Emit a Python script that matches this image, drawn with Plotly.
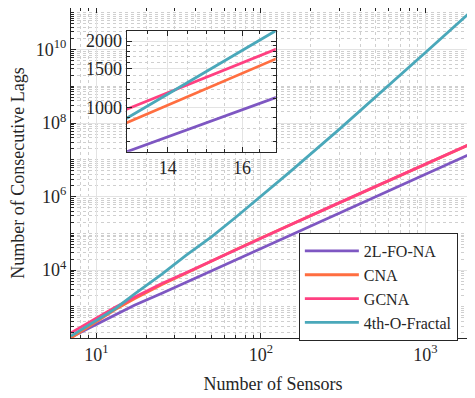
import numpy as np
import plotly.graph_objects as go

# ---- data ----
sensors = [7, 10, 13, 17, 25, 35, 50, 70, 100, 150, 300, 500, 1000, 2000]
lags_2l_fo_na = [150, 340, 628, 1106, 2360, 4650, 9500, 1.88e4, 3.94e4, 8.9e4, 3.6e5, 1.0e6, 4.02e6, 1.63e7]
lags_cna = [143, 400, 851, 1658, 4050, 8200, 1.77e4, 3.57e4, 7.44e4, 1.68e5, 6.82e5, 1.91e6, 7.72e6, 3.04e7]
lags_gcna = [198, 497, 979, 1835, 4300, 8500, 1.79e4, 3.6e4, 7.48e4, 1.69e5, 6.85e5, 1.92e6, 7.74e6, 3.05e7]
lags_fractal = [161, 420, 891, 2228, 7800, 2.5e4, 8.0e4, 2.69e5, 1.0e6, 4.7e6, 6.8e7, 5.1e8, 8.24e9, 1.34e11]

series_names = ["2L-FO-NA", "CNA", "GCNA", "4th-O-Fractal"]
series_values = [lags_2l_fo_na, lags_cna, lags_gcna, lags_fractal]
colors = ["#7E57C2", "#FF6E40", "#FF4081", "#4AA8BA"]

x_tickvals = [10, 100, 1000]
x_ticktext = ["10<sup>1</sup>", "10<sup>2</sup>", "10<sup>3</sup>"]
y_tickvals = [1e4, 1e6, 1e8, 1e10]
y_ticktext = ["10<sup>4</sup>", "10<sup>6</sup>", "10<sup>8</sup>", "10<sup>10</sup>"]
inset_x_tickvals = [14, 16]
inset_y_tickvals = [1000, 1500, 2000]

main_x_range = [7, 2000]
main_y_range = [142.6, 1.34e11]
inset_x_range = [13, 17]
inset_y_range = [628, 2228]

FONT = "Liberation Serif"
FS = 18
AXC = "#262626"
GRID = "#e3e3e3"
MINOR = "#cfcfcf"

fig = go.Figure()
for name, vals, c in zip(series_names, series_values, colors):
    fig.add_trace(go.Scatter(x=sensors, y=vals, mode="lines", name=name,
                             line=dict(color=c, width=2.8), xaxis="x", yaxis="y"))
for name, vals, c in zip(series_names, series_values, colors):
    fig.add_trace(go.Scatter(x=sensors, y=vals, mode="lines", name=name, showlegend=False,
                             line=dict(color=c, width=2.8), xaxis="x2", yaxis="y2"))

common = dict(showline=True, linecolor=AXC, linewidth=1, mirror="ticks", ticks="inside",
              ticklen=5, tickcolor=AXC, showgrid=True, gridcolor=GRID, gridwidth=1,
              zeroline=False, tickfont=dict(family=FONT, size=FS, color="#262626"))
minor = dict(dtick="D1", ticks="inside", ticklen=3, tickcolor=AXC, showgrid=True,
             griddash="dot", gridcolor=MINOR, gridwidth=1)

# the page body adds an 8px offset, so the figure is 8px smaller on each axis
fig.update_layout(
    width=467, height=390,
    margin=dict(l=63, r=0, t=0, b=60, autoexpand=False),
    paper_bgcolor="white", plot_bgcolor="white",
    font=dict(family=FONT, size=FS, color="#262626"),
    xaxis=dict(type="log", range=[np.log10(main_x_range[0]), np.log10(main_x_range[1])],
               tickmode="array", tickvals=x_tickvals, ticktext=x_ticktext,
               domain=[0, 1], anchor="y", minor=minor,
               title=dict(text="Number of Sensors", font=dict(family=FONT, size=FS), standoff=13),
               **common),
    yaxis=dict(type="log", range=[np.log10(main_y_range[0]), np.log10(main_y_range[1])],
               tickmode="array", tickvals=y_tickvals, ticktext=y_ticktext,
               domain=[0, 1], anchor="x", minor=minor,
               title=dict(text="Number of Consecutive Lags", font=dict(family=FONT, size=FS), standoff=6),
               **common),
    xaxis2=dict(type="log", range=[np.log10(inset_x_range[0]), np.log10(inset_x_range[1])],
                tickmode="array", tickvals=inset_x_tickvals,
                domain=[0.1379, 0.5067], anchor="y2",
                minor=dict(tickvals=[13.5, 14.5, 15, 15.5, 16.5], ticks="inside", ticklen=3,
                           tickcolor=AXC, showgrid=True, griddash="dot", gridcolor=MINOR),
                **common),
    yaxis2=dict(type="log", range=[np.log10(inset_y_range[0]), np.log10(inset_y_range[1])],
                tickmode="array", tickvals=inset_y_tickvals,
                domain=[0.5645, 0.9312], anchor="x2",
                minor=dict(tickvals=[700, 800, 900, 1100, 1200, 1300, 1400, 1600, 1700, 1800, 1900],
                           ticks="inside", ticklen=3, tickcolor=AXC, showgrid=True,
                           griddash="dot", gridcolor=MINOR),
                **common),
    legend=dict(x=0.564, y=0.318, xanchor="left", yanchor="top",
                bgcolor="white", bordercolor=AXC, borderwidth=1,
                font=dict(family=FONT, size=16), itemwidth=54, tracegroupgap=0),
    showlegend=True,
)

fig.write_html("out.html")
